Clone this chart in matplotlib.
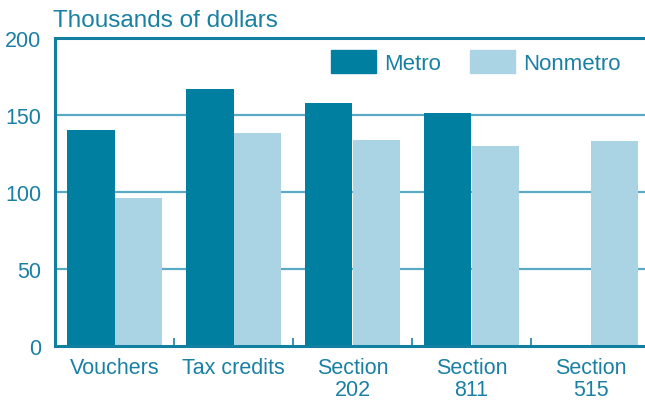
import matplotlib.pyplot as plt
import numpy as np
from matplotlib.patches import Patch

plt.rcParams['font.family'] = ['Liberation Sans', 'DejaVu Sans']

# data
categories = ['Vouchers', 'Tax credits', 'Section\n202', 'Section\n811', 'Section\n515']
metro = [140, 167, 158, 151, 0]
nonmetro = [96, 138, 134, 130, 133]

dark = '#007fa1'
light = '#aad4e3'
txt = '#1a80a3'
grid = '#5aaac6'

fig = plt.figure(figsize=(6.45, 4.02), dpi=100)
ax = fig.add_axes([55/645, 1 - 347/402, 595/645, (347 - 39)/402])

x = np.arange(len(categories))
w = 0.4
ax.bar(x - w/2, metro, w, color=dark, zorder=2)
ax.bar(x + w/2, nonmetro, w, color=light, zorder=2)

ax.set_xlim(-0.5, 4.5)
ax.set_ylim(0, 200)
ax.set_yticks([0, 50, 100, 150, 200])
for y in [50, 100, 150]:
    ax.axhline(y, color=grid, lw=1.6, zorder=1)

ax.set_xticks(x)
ax.set_xticklabels(categories, linespacing=1.05)
ax.set_xticks(np.arange(0.5, 4, 1), minor=True)
ax.tick_params(axis='x', which='major', length=0, pad=8, labelsize=15.5, labelcolor=txt)
ax.tick_params(axis='x', which='minor', length=6, width=1.2, direction='in', color=txt)
ax.tick_params(axis='y', length=0, pad=10, labelsize=15.5, labelcolor=txt)

for s in ['left', 'bottom', 'top']:
    ax.spines[s].set_color('#117f9f')
    ax.spines[s].set_linewidth(2.2)
ax.spines['right'].set_visible(False)

fig.text(53/645, 1 - 27/402, 'Thousands of dollars', fontsize=17.5, color=txt, ha='left', va='baseline')

handles = [Patch(color=dark, label='Metro'), Patch(color=light, label='Nonmetro')]
leg = ax.legend(handles=handles, ncol=2, loc='upper left', bbox_to_anchor=(276/595, 0.962),
                frameon=False, fontsize=16, handlelength=2.03, handleheight=1.25,
                handletextpad=0.36, columnspacing=1.3, labelcolor=txt,
                borderpad=0, borderaxespad=0)

fig.savefig('out.png', dpi=100)
